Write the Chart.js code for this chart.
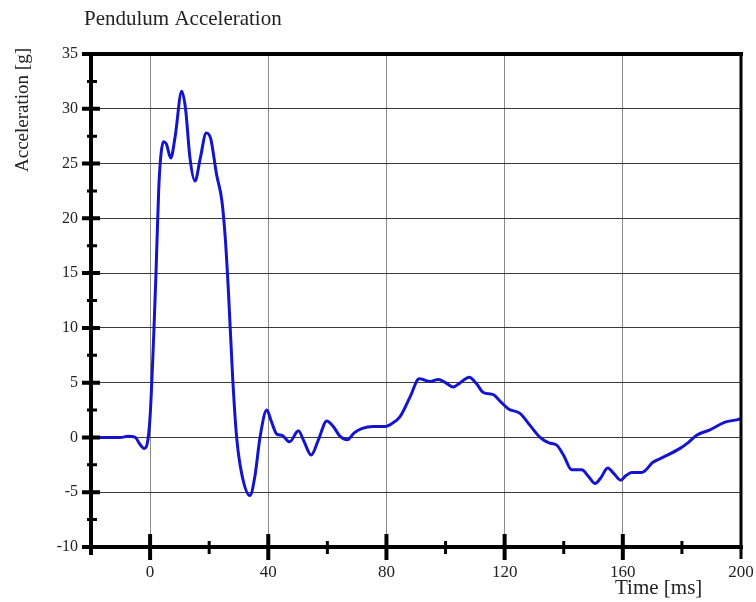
<!DOCTYPE html>
<html>
<head>
<meta charset="utf-8">
<title>Pendulum Acceleration</title>
<script src="https://cdn.jsdelivr.net/npm/chart.js@4/dist/chart.umd.min.js"></script>
<style>
  body { margin: 0; background: #fff; }
  #wrap { width: 756px; height: 602px; }
</style>
</head>
<body>
<div id="wrap"><canvas id="pendulum-chart" width="756" height="602"></canvas></div>
<script>
// values
const timeMs = [
  -20, -10, -7.5, -5, -3.5, -2, -1, 0, 1.3, 2, 2.9, 3.6, 4.5, 5.5, 7, 8.5,
  10.7, 12, 13.5, 15.2, 17, 19, 20.5, 22.5, 24.3, 25.5, 26.5, 28, 29.3, 31,
  33.8, 35.5, 37.2, 39.5, 41, 42.9, 44.6, 47.2, 50.2, 52, 54.5, 57, 59.8,
  62, 64.3, 66.8, 69, 71.6, 75.6, 79.5, 82, 84.6, 88, 91.1, 94.8, 97.6, 100,
  102.6, 105, 108, 110.5, 112.8, 116.2, 118.5, 121.3, 125.2, 128.6, 132,
  135, 137.6, 139.9, 142.7, 146.1, 148.5, 150.6, 152.5, 154.9, 157, 159.3,
  161, 163, 166.4, 170.3, 173.7, 179.4, 182, 185, 189.5, 194.6, 199.7, 200
];
const accelG = [
  0, 0, 0.1, 0, -0.6, -1.0, -0.6, 1.9, 9.8, 15, 22.5, 25.6, 27.0, 26.8, 25.5, 27.5,
  31.6, 30, 25.5, 23.4, 25.5, 27.8, 27.3, 24, 21.6, 18, 13.4, 5.2, 0, -3.3,
  -5.3, -3.5, 0, 2.5, 1.5, 0.3, 0.2, -0.4, 0.6, -0.3, -1.6, -0.2, 1.5,
  1.0, 0.1, -0.2, 0.4, 0.8, 1.0, 1.0, 1.3, 1.9, 3.7, 5.35, 5.1, 5.3, 5.0,
  4.6, 5.0, 5.5, 4.9, 4.1, 3.9, 3.3, 2.6, 2.2, 1.1, 0,
  -0.5, -0.7, -1.6, -2.95, -2.95, -3.6, -4.2, -3.7, -2.8, -3.3, -3.9,
  -3.5, -3.2, -3.2, -2.25, -1.8, -1.0, -0.5, 0.2, 0.7, 1.4, 1.7, 1.75
];

const xTicks = [0, 40, 80, 120, 160, 200];
const xMinorTicks = [-20, 20, 60, 100, 140, 180];
const yTicks = [-10, -5, 0, 5, 10, 15, 20, 25, 30, 35];
const yMinorTicks = [-7.5, -2.5, 2.5, 7.5, 12.5, 17.5, 22.5, 27.5, 32.5];

const serif = '"Liberation Serif", "Times New Roman", serif';

// thick axis frame, ticks crossing the axes, and the titles
const framePlugin = {
  id: 'frame',
  afterDraw(chart) {
    const { ctx, chartArea: area, scales: { x, y } } = chart;
    ctx.save();
    ctx.strokeStyle = '#000';
    ctx.lineCap = 'butt';

    // axes and border
    ctx.lineWidth = 4;
    ctx.beginPath();
    ctx.moveTo(area.left, area.top - 2);
    ctx.lineTo(area.left, area.bottom + 8);
    ctx.moveTo(area.left - 8, area.bottom);
    ctx.lineTo(area.right + 2, area.bottom);
    ctx.moveTo(area.left - 8, area.top);
    ctx.lineTo(area.right + 2, area.top);
    ctx.stroke();
    ctx.lineWidth = 3;
    ctx.beginPath();
    ctx.moveTo(area.right, area.top);
    ctx.lineTo(area.right, area.bottom + 12);
    ctx.stroke();

    // y ticks
    ctx.lineWidth = 4;
    ctx.beginPath();
    yTicks.forEach(v => {
      const py = y.getPixelForValue(v);
      ctx.moveTo(area.left - 9, py);
      ctx.lineTo(area.left + 9, py);
    });
    ctx.stroke();
    ctx.lineWidth = 3;
    ctx.beginPath();
    yMinorTicks.forEach(v => {
      const py = y.getPixelForValue(v);
      ctx.moveTo(area.left - 4, py);
      ctx.lineTo(area.left + 6, py);
    });
    ctx.stroke();

    // x ticks
    ctx.lineWidth = 4;
    ctx.beginPath();
    xTicks.slice(0, -1).forEach(v => {
      const px = x.getPixelForValue(v);
      ctx.moveTo(px, area.bottom - 13);
      ctx.lineTo(px, area.bottom + 13);
    });
    ctx.stroke();
    ctx.lineWidth = 3;
    ctx.beginPath();
    xMinorTicks.slice(1).forEach(v => {
      const px = x.getPixelForValue(v);
      ctx.moveTo(px, area.bottom - 6);
      ctx.lineTo(px, area.bottom + 7);
    });
    ctx.stroke();

    // texts
    ctx.fillStyle = '#222';
    ctx.textBaseline = 'alphabetic';
    ctx.textAlign = 'left';
    ctx.font = '21px ' + serif;
    ctx.fillText('Pendulum Acceleration', 84, 25);

    ctx.font = '21px ' + serif;
    ctx.fillText('Time [ms]', 615, 594);

    ctx.save();
    ctx.translate(28, 110);
    ctx.rotate(-Math.PI / 2);
    ctx.textAlign = 'center';
    ctx.font = '19px ' + serif;
    ctx.fillText('Acceleration [g]', 0, 0);
    ctx.restore();

    ctx.restore();
  }
};

const ctx = document.getElementById('pendulum-chart').getContext('2d');
new Chart(ctx, {
  type: 'line',
  data: {
    datasets: [{
      label: 'Acceleration',
      data: timeMs.map((t, i) => ({ x: t, y: accelG[i] })),
      borderColor: '#1414cc',
      borderWidth: 3,
      pointRadius: 0,
      cubicInterpolationMode: 'monotone',
      fill: false
    }]
  },
  options: {
    responsive: false,
    animation: false,
    layout: { padding: { top: 54, right: 15, left: 0, bottom: 0 } },
    plugins: {
      legend: { display: false },
      title: { display: false },
      tooltip: { enabled: false }
    },
    scales: {
      x: {
        type: 'linear',
        min: -20,
        max: 200,
        afterBuildTicks: scale => { scale.ticks = xTicks.map(v => ({ value: v })); },
        afterFit: scale => {
          scale.height = 55;
          scale.paddingLeft = 0;
          scale.paddingRight = 0;
        },
        border: { display: false },
        grid: {
          drawTicks: false,
          lineWidth: 1,
          color: c => (c.tick && c.tick.value === 200) ? 'rgba(0,0,0,0)' : '#8a8a8a'
        },
        ticks: {
          padding: 15,
          maxRotation: 0,
          color: '#222',
          font: { family: serif, size: 17 }
        }
      },
      y: {
        min: -10,
        max: 35,
        afterBuildTicks: scale => { scale.ticks = yTicks.map(v => ({ value: v })); },
        afterFit: scale => {
          scale.width = 91;
          scale.paddingTop = 0;
          scale.paddingBottom = 0;
        },
        border: { display: false },
        grid: {
          drawTicks: false,
          lineWidth: 1,
          color: c => (c.tick && (c.tick.value === 35 || c.tick.value === -10)) ? 'rgba(0,0,0,0)' : '#3a3a3a'
        },
        ticks: {
          padding: 13,
          color: '#222',
          font: { family: serif, size: 16 }
        }
      }
    }
  },
  plugins: [framePlugin]
});
</script>
</body>
</html>
